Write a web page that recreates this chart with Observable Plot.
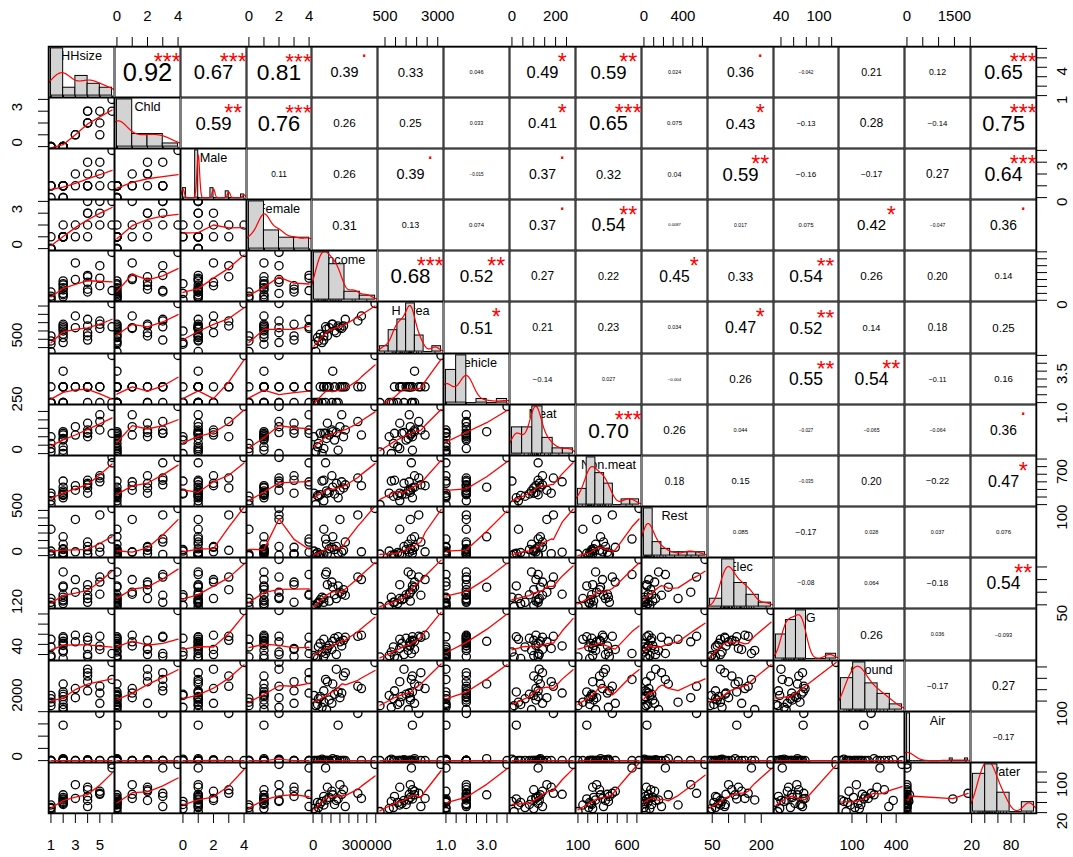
<!DOCTYPE html>
<html><head><meta charset="utf-8">
<script src="https://cdn.jsdelivr.net/npm/d3@7"></script>
<script src="https://cdn.jsdelivr.net/npm/@observablehq/plot@0.6"></script>
<style>
body{margin:0;background:#fff;}
#chart{position:relative;width:1073px;height:857px;overflow:hidden;background:#fff;}
</style></head><body><div id="chart"></div>
<script>
// ---------- data (24 households, read/estimated from the picture) ----------
const varNames = ["HHsize","Chld","Male","Female","Income","H area","Vehicle","Meat","Non.meat","Rest","Elec","NG","Ground","Air","Water"];
const HHsize  = [1,1,1,1, 2,2,2,2,2,2,2,2, 3,3, 4,4,4,4,4, 5,5,5, 6,6];
const Chld    = [0,0,0,0, 0,0,0,0,0,0,0,0, 1,1, 2,2,2,3,3, 3,1,2, 4,3];
const Male    = [1,1,1,0, 1,1,1,1,1,1,0,0, 2,1, 3,2,1,1,1, 3,1,2, 4,1];
const Female  = [0,0,0,1, 1,1,1,1,1,1,1,2, 1,2, 1,2,3,3,4, 2,4,3, 2,4];
const Income  = [15000,30000,60000,5000, 40000,75000,140000,90000,25000,110000,120000,50000, 270000,150000, 170000,130000,80000,60000,180000, 250000,160000,105000, 346000,70000];
const Harea   = [260,900,1200,700, 1300,1600,1800,1700,1100,1900,1500,800, 2400,1700, 1800,1400,1200,950,2200, 2100,1650,1900, 3157,1750];
const Vehicle = [1,1,2,1, 2,2,1,2,1,3,2,1, 2,2, 2,1,2,2,2, 2,2,1, 4,1];
const Meat    = [10,60,30,100, 120,90,20,110,40,130,80,0, 110,160, 100,125,180,120,140, 190,230,140, 280,120];
const Nonmeat = [100,210,150,250, 230,280,190,260,220,330,240,410, 350,290, 320,380,250,420,360, 450,400,480, 722,650];
const Rest    = [20,0,350,60, 10,150,30,90,40,250,80,5, 50,480, 70,120,25,15,180, 540,45,110, 627,220];
const Elec    = [43,60,75,48, 70,180,125,65,55,120,90,80, 150,100, 110,75,130,60,88, 160,92,140, 230,170];
const NG      = [35,55,70,38, 62,48,75,58,32,66,72,45, 78,65, 68,40,52,36,74, 76,57,50, 127,42];
const Ground  = [60,120,90,150, 140,25,180,110,70,250,160,45, 210,130, 320,380,270,190,350, 230,170,80, 440,290];
const Air     = [0,0,0,0, 0,0,1450,0,0,80,0,60, 0,0, 0,40,0,0,0, 1930,0,0, 0,0];
const Water   = [22,30,35,28, 38,45,47,50,40,55,36,42, 48,75, 65,44,70,52,32, 58,56,62, 115,108];
const series = [HHsize,Chld,Male,Female,Income,Harea,Vehicle,Meat,Nonmeat,Rest,Elec,NG,Ground,Air,Water];

const histBreaks = [
  [1,2,3,4,5,6],
  [0,1,2,3,4],
  [0,0.2,0.4,0.6,0.8,1,1.2,1.4,1.6,1.8,2,2.2,2.4,2.6,2.8,3,3.2,3.4,3.6,3.8,4],
  [0,1,2,3,4],
  [0,100000,200000,300000,400000],
  [0,500,1000,1500,2000,2500,3000,3500],
  [1,1.5,2,2.5,3,3.5,4],
  [0,50,100,150,200,250,300],
  [100,200,300,400,500,600,700,800],
  [0,100,200,300,400,500,600,700],
  [0,50,100,150,200,250],
  [20,40,60,80,100,120,140],
  [0,100,200,300,400,500],
  [0,100,200,300,400,500,600,700,800,900,1000,1100,1200,1300,1400,1500,1600,1700,1800,1900,2000],
  [20,40,60,80,100,120]
];
const axisTicks = [
  [1,2,3,4,5,6],[0,1,2,3,4],[0,1,2,3,4],[0,1,2,3,4],
  [0,50000,100000,150000,200000,250000,300000,350000],
  [500,1000,1500,2000,2500,3000],[1,1.5,2,2.5,3,3.5,4],[0,50,100,150,200,250],
  [100,200,300,400,500,600,700],[0,100,200,300,400,500,600],[50,100,150,200],
  [40,60,80,100,120],[100,200,300,400],[0,500,1000,1500,2000],[20,40,60,80,100]
];
const xAxisLabels = [[1,3,5],[0,2,4],[0,2,4],[0,2,4],[0,300000],[500,3000],[1,3],[0,200],[100,600],[0,400],[50,200],[40,100],[100,400],[0,1500],[20,80]];
const yAxisLabels = [[1,4],[0,3],[0,3],[0,3],[0],[500],[1,3.5],[0,250],[100,700],[0,500],[50],[40,120],[100],[0,2000],[20,100]];

const corText = [
 ["0.92","0.67","0.81","0.39","0.33","0.046","0.49","0.59","0.024","0.36","-0.042","0.21","0.12","0.65"],
 ["0.59","0.76","0.26","0.25","0.033","0.41","0.65","0.075","0.43","-0.13","0.28","-0.14","0.75"],
 ["0.11","0.26","0.39","-0.015","0.37","0.32","0.04","0.59","-0.16","-0.17","0.27","0.64"],
 ["0.31","0.13","0.074","0.37","0.54","0.0087","0.017","0.075","0.42","-0.047","0.36"],
 ["0.68","0.52","0.27","0.22","0.45","0.33","0.54","0.26","0.20","0.14"],
 ["0.51","0.21","0.23","0.034","0.47","0.52","0.14","0.18","0.25"],
 ["-0.14","0.027","-0.004","0.26","0.55","0.54","-0.11","0.16"],
 ["0.70","0.26","0.044","-0.027","-0.065","-0.064","0.36"],
 ["0.18","0.15","-0.035","0.20","-0.22","0.47"],
 ["0.085","-0.17","0.028","0.037","0.076"],
 ["-0.08","0.064","-0.18","0.54"],
 ["0.26","0.036","-0.093"],
 ["-0.17","0.27"],
 ["-0.17"]
];
const corStars = [
 ["***","***","***",".","","","*","**","",".","","","","***"],
 ["**","***","","","","*","***","","*","","","","***"],
 ["","",".","",".","","","**","","","","***"],
 ["","","",".","**","","","","*","","."],
 ["***","**","","","*","","**","","",""],
 ["*","","","","*","**","","",""],
 ["","","","","**","**","",""],
 ["***","","","","","","."],
 ["","","","","","*"],
 ["","","","",""],
 ["","","","**"],
 ["","",""],
 ["",""],
 [""]
];

// ---------- layout ----------
const FONT = "'Liberation Sans', Arial, Helvetica, sans-serif";
const N = 15, L = 48, R = 1036, T = 45.7, B = 813;
const colX = d3.range(N + 1).map(j => Math.round(L + j * (R - L) / N));
const rowY = d3.range(N + 1).map(i => Math.round(T + i * (B - T) / N));
const chart = document.getElementById("chart");
function put(svg, left, top) {
  svg.style.position = "absolute"; svg.style.left = left + "px"; svg.style.top = top + "px";
  chart.appendChild(svg);
}
const panelStyle = {background: "transparent", color: "black", fontFamily: FONT, overflow: "hidden"};
const openStyle = {background: "transparent", color: "black", fontFamily: FONT, overflow: "visible"};

// ---------- helpers (statistics as R does them) ----------
function padDomain(lo, hi) { const d = (hi - lo) * 0.04; return [lo - d, hi + d]; }
function varDomain(v) { return padDomain(d3.min(v), d3.max(v)); }

function lowestFit(x, y, xs, nleft, nright, rw, userw) {
  const n = x.length, range = x[n - 1] - x[0];
  const h = Math.max(xs - x[nleft], x[nright] - xs);
  const h9 = 0.999 * h, h1 = 0.001 * h;
  const w = new Array(n).fill(0);
  let a = 0, j = nleft;
  while (j < n) {
    const r = Math.abs(x[j] - xs);
    if (r <= h9) {
      w[j] = r <= h1 ? 1 : Math.pow(1 - Math.pow(r / h, 3), 3);
      if (userw) w[j] *= rw[j];
      a += w[j];
    } else if (x[j] > xs) break;
    j++;
  }
  const nrt = j - 1;
  if (a <= 0) return null;
  for (j = nleft; j <= nrt; j++) w[j] /= a;
  if (h > 0) {
    a = 0; for (j = nleft; j <= nrt; j++) a += w[j] * x[j];
    let b = xs - a, c = 0;
    for (j = nleft; j <= nrt; j++) c += w[j] * (x[j] - a) * (x[j] - a);
    if (Math.sqrt(c) > 0.001 * range) { b /= c; for (j = nleft; j <= nrt; j++) w[j] *= (b * (x[j] - a) + 1); }
  }
  let ys = 0; for (j = nleft; j <= nrt; j++) ys += w[j] * y[j];
  return ys;
}
function lowess(xin, yin, f = 2 / 3, iter = 3) {
  const n = xin.length;
  const idx = d3.range(n).sort((a, b) => xin[a] - xin[b]);
  const x = idx.map(i => xin[i]), y = idx.map(i => yin[i]);
  const ns = Math.max(2, Math.min(n, Math.floor(f * n + 1e-7)));
  const delta = 0.01 * (x[n - 1] - x[0]);
  const rw = new Array(n).fill(1), ys = new Array(n).fill(0), res = new Array(n).fill(0);
  for (let it = 0; it <= iter; it++) {
    let nleft = 0, nright = ns - 1, last = -1, i = 0;
    for (;;) {
      if (nright < n - 1) {
        const d1 = x[i] - x[nleft], d2 = x[nright + 1] - x[i];
        if (d1 > d2) { nleft++; nright++; continue; }
      }
      const v = lowestFit(x, y, x[i], nleft, nright, rw, it > 0);
      ys[i] = v === null ? y[i] : v;
      if (last < i - 1) {
        const denom = x[i] - x[last];
        for (let j = last + 1; j < i; j++) { const al = (x[j] - x[last]) / denom; ys[j] = al * ys[i] + (1 - al) * ys[last]; }
      }
      last = i;
      const cut = x[last] + delta;
      for (i = last + 1; i < n; i++) {
        if (x[i] > cut) break;
        if (x[i] === x[last]) { ys[i] = ys[last]; last = i; }
      }
      i = Math.max(last + 1, i - 1);
      if (last >= n - 1) break;
    }
    for (let k = 0; k < n; k++) res[k] = y[k] - ys[k];
    if (it === iter) break;
    const sc = d3.sum(res, r => Math.abs(r)) / n;
    const ar = res.map(Math.abs).sort((a, b) => a - b);
    const m1 = Math.floor(n / 2);
    const cmad = n % 2 === 0 ? 3 * (ar[m1] + ar[n - m1 - 1]) : 6 * ar[m1];
    if (cmad < 1e-7 * sc) break;
    const c9 = 0.999 * cmad, c1 = 0.001 * cmad;
    for (let k = 0; k < n; k++) {
      const r = Math.abs(res[k]);
      rw[k] = r <= c1 ? 1 : r > c9 ? 0 : Math.pow(1 - (r / cmad) * (r / cmad), 2);
    }
  }
  return x.map((xv, k) => ({x: xv, y: ys[k]}));
}
function kde(v) {
  const n = v.length, s = v.slice().sort((a, b) => a - b);
  const sd = d3.deviation(v);
  const iqr = d3.quantileSorted(s, 0.75) - d3.quantileSorted(s, 0.25);
  let lo = Math.min(sd, iqr / 1.34);
  if (!lo) lo = sd || Math.abs(s[0]) || 1;
  const bw = 0.9 * lo * Math.pow(n, -0.2);
  const from = s[0] - 3 * bw, to = s[n - 1] + 3 * bw, out = [];
  for (let k = 0; k < 512; k++) {
    const t = from + (to - from) * k / 511;
    let sum = 0; for (const xv of v) { const z = (t - xv) / bw; sum += Math.exp(-0.5 * z * z); }
    out.push({x: t, y: sum / (n * bw * Math.sqrt(2 * Math.PI))});
  }
  return out;
}
function histogram(v, br) {
  const n = v.length, fuzz = 1e-7 * (br[br.length - 1] - br[0]);
  const counts = new Array(br.length - 1).fill(0);
  for (const xv of v) {
    for (let k = 0; k < br.length - 1; k++) { if (xv <= br[k + 1] + fuzz) { counts[k]++; break; } }
  }
  return counts.map((c, k) => ({x1: br[k], x2: br[k + 1], d: c / (n * (br[k + 1] - br[k]))}));
}
function emWidth(s) { let w = 0; for (const c of s) w += c === "." ? 0.278 : c === "-" ? 0.333 : 0.556; return w; }
const fmtAxis = k => (k === 6 ? d3.format(".1f") : (d => String(d)));

// ---------- panels ----------
for (let i = 0; i < N; i++) {
  for (let j = 0; j < N; j++) {
    const w = colX[j + 1] - colX[j], h = rowY[i + 1] - rowY[i];
    let svg;
    if (i === j) {
      const v = series[i], br = histBreaks[i];
      const bins = histogram(v, br);
      const dens = kde(v);
      const maxD = d3.max(bins, b => b.d);
      const yDom = padDomain(0, maxD);
      const xDom = padDomain(br[0], br[br.length - 1]);
      svg = Plot.plot({
        width: w, height: h, margin: 0, style: panelStyle,
        x: {domain: xDom, axis: null}, y: {domain: yDom, axis: null},
        marks: [
          Plot.text([varNames[i]], {text: d => d, frameAnchor: "top", dy: 8.5 + 0.04 * 12.7, fontSize: 12.7, lineAnchor: "middle", fill: "black"}),
          Plot.rect(bins.filter(b => b.d > 0), {x1: "x1", x2: "x2", y1: 0, y2: "d", fill: "#d3d3d3", stroke: "black", strokeWidth: 1}),
          Plot.ruleY(bins.filter(b => b.d === 0), {x1: "x1", x2: "x2", y: 0, stroke: "black", strokeWidth: 1}),
          Plot.line(dens, {x: "x", y: "y", stroke: "red", strokeWidth: 1.2}),
          Plot.ruleX(v, {x: d => d, y1: yDom[0], y2: yDom[0] + 0.03 * (yDom[1] - yDom[0]), stroke: "black"}),
          Plot.frame({stroke: "black", strokeWidth: 2})
        ]
      });
    } else if (j > i) {
      const txt = corText[i][j - i - 1], star = corStars[i][j - i - 1];
      const base = 0.8 * w / emWidth(txt);
      const fs = base * (Math.abs(parseFloat(txt)) + 0.3) / 1.3;
      const sfs = 0.85 * base;
      const starDy = star === "." ? -0.3 * sfs : 0.24 * sfs;
      svg = Plot.plot({
        width: w, height: h, margin: 0, style: openStyle,
        x: {domain: [0, 1], axis: null}, y: {domain: [0, 1], axis: null},
        marks: [
          Plot.frame({stroke: "black", strokeWidth: 1, inset: 0.5}),
          Plot.text([txt], {x: 0.5, y: 0.5, text: d => d.replace("-", "\u2212"), fontSize: fs, lineAnchor: "middle", dy: 0.04 * fs, fill: "black"}),
          Plot.text([star], {x: 0.8, y: 0.8, text: d => d, fontSize: sfs, lineAnchor: "middle", dy: starDy, fill: "red"})
        ]
      });
    } else {
      const xv = series[j], yv = series[i];
      const pts = xv.map((d, k) => ({x: d, y: yv[k]}));
      svg = Plot.plot({
        width: w, height: h, margin: 0, style: panelStyle,
        x: {domain: varDomain(xv), axis: null}, y: {domain: varDomain(yv), axis: null},
        marks: [
          Plot.dot(pts, {x: "x", y: "y", r: 4.1, stroke: "black", strokeWidth: 1.3, fill: "none"}),
          Plot.line(lowess(xv, yv), {x: "x", y: "y", stroke: "red", strokeWidth: 1.3}),
          Plot.frame({stroke: "black", strokeWidth: 2})
        ]
      });
    }
    put(svg, colX[j], rowY[i]);
  }
}

// ---------- outer axes ----------
const TICK_FS = 15;
for (let j = 0; j < N; j++) {
  const w = colX[j + 1] - colX[j], dom = varDomain(series[j]), fmt = fmtAxis(j);
  if (j % 2 === 1) {
    const svg = Plot.plot({
      width: w, height: rowY[0] + 4, marginTop: rowY[0], marginBottom: 4, marginLeft: 0, marginRight: 0,
      style: openStyle, x: {domain: dom},
      marks: [
        Plot.axisX(axisTicks[j], {anchor: "top", tickSize: 10, tickFormat: () => "", strokeWidth: 1}),
        Plot.text(xAxisLabels[j], {x: d => d, text: fmt, frameAnchor: "top", dy: 15 - rowY[0] + 0.04 * TICK_FS, fontSize: TICK_FS, lineAnchor: "middle", fill: "black"})
      ]
    });
    put(svg, colX[j], 0);
  } else {
    const H = 857 - (B - 4);
    const svg = Plot.plot({
      width: w, height: H, marginTop: 4, marginBottom: H - 4, marginLeft: 0, marginRight: 0,
      style: openStyle, x: {domain: dom},
      marks: [
        Plot.axisX(axisTicks[j], {anchor: "bottom", tickSize: 10, tickFormat: () => "", strokeWidth: 1}),
        Plot.text(xAxisLabels[j], {x: d => d, text: fmt, frameAnchor: "bottom", dy: 31 + 0.04 * TICK_FS, fontSize: TICK_FS, lineAnchor: "middle", fill: "black"})
      ]
    });
    put(svg, colX[j], B - 4);
  }
}
for (let i = 0; i < N; i++) {
  const h = rowY[i + 1] - rowY[i], dom = varDomain(series[i]), fmt = fmtAxis(i);
  if (i % 2 === 1) {
    const svg = Plot.plot({
      width: L + 4, height: h, marginLeft: L, marginRight: 4, marginTop: 0, marginBottom: 0,
      style: openStyle, y: {domain: dom},
      marks: [
        Plot.axisY(axisTicks[i], {anchor: "left", tickSize: 10, tickFormat: () => "", strokeWidth: 1}),
        Plot.text(yAxisLabels[i], {y: d => d, text: fmt, frameAnchor: "left", dx: 16.7 - L, rotate: -90, fontSize: TICK_FS, lineAnchor: "middle", fill: "black"})
      ]
    });
    put(svg, 0, rowY[i]);
  } else {
    const W = 1073 - (R - 4);
    const svg = Plot.plot({
      width: W, height: h, marginLeft: 4, marginRight: W - 4, marginTop: 0, marginBottom: 0,
      style: openStyle, y: {domain: dom},
      marks: [
        Plot.axisY(axisTicks[i], {anchor: "right", tickSize: 10, tickFormat: () => "", strokeWidth: 1}),
        Plot.text(yAxisLabels[i], {y: d => d, text: fmt, frameAnchor: "right", dx: 1062 - R, rotate: -90, fontSize: TICK_FS, lineAnchor: "middle", fill: "black"})
      ]
    });
    put(svg, R - 4, rowY[i]);
  }
}
// outer border
put(Plot.plot({width: R - L, height: B - rowY[0], margin: 0, style: openStyle,
  marks: [Plot.frame({stroke: "black", strokeWidth: 1.5})]}), L, rowY[0]);
</script></body></html>
